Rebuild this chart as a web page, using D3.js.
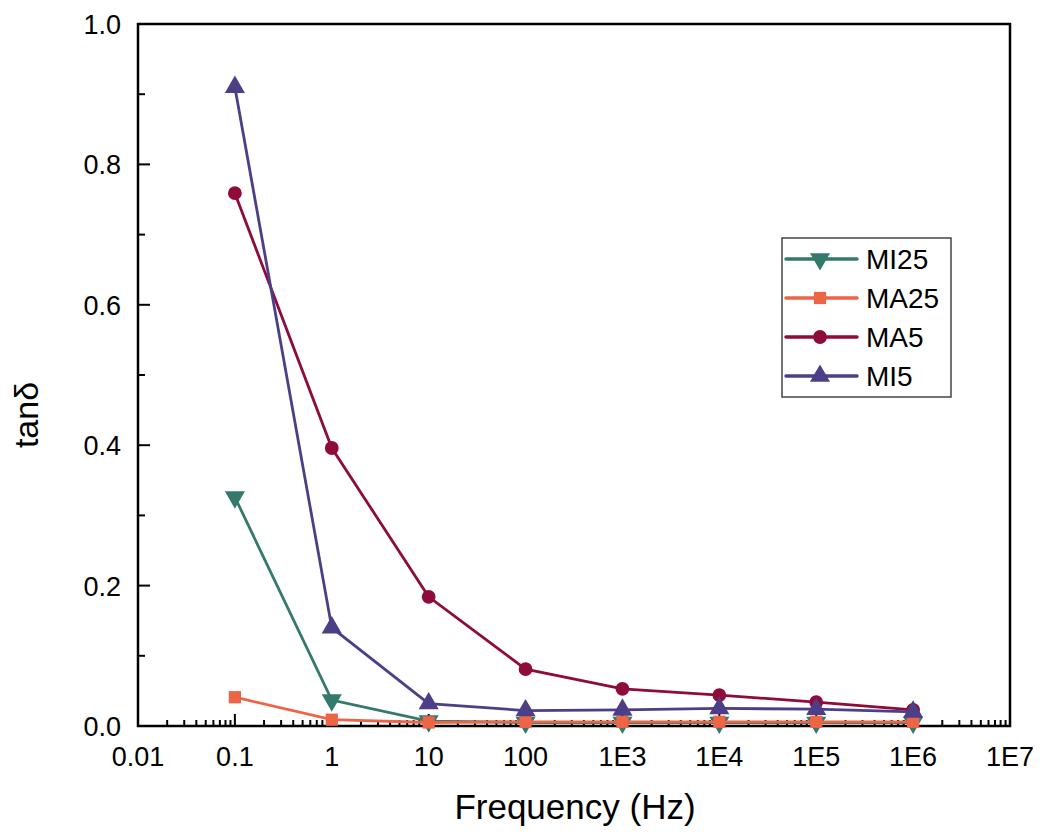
<!DOCTYPE html>
<html lang="en">
<head>
<meta charset="UTF-8">
<title>tan delta vs frequency</title>
<script src="https://d3js.org/d3.v7.min.js"></script>
<style>
    body { margin: 0; background: #fff; }
    text { font-family: "Liberation Sans", Arial, sans-serif; fill: #000; }
</style>
</head>
<body>
<svg id="chart" width="1042" height="834"></svg>
<script>
    // data
    var freqs = [0.1, 1, 10, 100, 1e3, 1e4, 1e5, 1e6];
    var mi25 = [0.326, 0.037, 0.007, 0.005, 0.005, 0.005, 0.005, 0.005];
    var ma25 = [0.041, 0.009, 0.005, 0.006, 0.006, 0.006, 0.006, 0.006];
    var ma5 = [0.759, 0.396, 0.184, 0.081, 0.053, 0.044, 0.034, 0.023];
    var mi5 = [0.91, 0.14, 0.032, 0.022, 0.023, 0.025, 0.024, 0.02];
    var xTickVals = [0.01, 0.1, 1, 10, 100, 1e3, 1e4, 1e5, 1e6, 1e7];
    var xTickLabels = ["0.01", "0.1", "1", "10", "100", "1E3", "1E4", "1E5", "1E6", "1E7"];
    var yTickVals = [0, 0.2, 0.4, 0.6, 0.8, 1.0];

    var series = [
        {name: "MI25", values: mi25, color: "#347a6c", symbol: "down"},
        {name: "MA25", values: ma25, color: "#ee6446", symbol: "square"},
        {name: "MA5", values: ma5, color: "#8e0b3b", symbol: "circle"},
        {name: "MI5", values: mi5, color: "#4c3f88", symbol: "up"}
    ];

    var svg = d3.select("#chart");
    var plotLeft = 138, plotRight = 1010, plotTop = 24, plotBottom = 726;

    var x = d3.scaleLog().domain([0.01, 1e7]).range([plotLeft, plotRight]);
    var y = d3.scaleLinear().domain([0, 1]).range([plotBottom, plotTop]);

    function marker(g, kind, color) {
        var p = g.append("path").attr("fill", color);
        if (kind === "circle") p.attr("d", d3.symbol(d3.symbolCircle, 150)());
        else if (kind === "square") p.attr("d", d3.symbol(d3.symbolSquare, 150)());
        else p.attr("d", d3.symbol(d3.symbolTriangle, 175)());
        if (kind === "down") p.attr("transform", "rotate(180)");
        return p;
    }

    // minor ticks on x (inside)
    var minorX = [];
    for (var e = -2; e < 7; e++) {
        for (var m = 2; m <= 9; m++) minorX.push(m * Math.pow(10, e));
    }
    var axes = svg.append("g");
    axes.selectAll(".xminor").data(minorX).enter().append("line")
        .attr("x1", function (d) { return x(d); }).attr("x2", function (d) { return x(d); })
        .attr("y1", plotBottom).attr("y2", plotBottom - 6)
        .attr("stroke", "#000").attr("stroke-width", 2);
    axes.selectAll(".xmajor").data(xTickVals).enter().append("line")
        .attr("x1", function (d) { return x(d); }).attr("x2", function (d) { return x(d); })
        .attr("y1", plotBottom).attr("y2", plotBottom - 12)
        .attr("stroke", "#000").attr("stroke-width", 2);
    axes.selectAll(".xlab").data(xTickVals).enter().append("text")
        .attr("x", function (d) { return x(d); }).attr("y", plotBottom + 40)
        .attr("text-anchor", "middle").style("font-size", "27px")
        .text(function (d, i) { return xTickLabels[i]; });

    var minorY = [0.1, 0.3, 0.5, 0.7, 0.9];
    axes.selectAll(".yminor").data(minorY).enter().append("line")
        .attr("x1", plotLeft).attr("x2", plotLeft + 7)
        .attr("y1", function (d) { return y(d); }).attr("y2", function (d) { return y(d); })
        .attr("stroke", "#000").attr("stroke-width", 2);
    axes.selectAll(".ymajor").data(yTickVals).enter().append("line")
        .attr("x1", plotLeft).attr("x2", plotLeft + 12)
        .attr("y1", function (d) { return y(d); }).attr("y2", function (d) { return y(d); })
        .attr("stroke", "#000").attr("stroke-width", 2);
    axes.selectAll(".ylab").data(yTickVals).enter().append("text")
        .attr("x", plotLeft - 17).attr("y", function (d) { return y(d) + 10; })
        .attr("text-anchor", "end").style("font-size", "27px")
        .text(function (d) { return d3.format(".1f")(d); });

    // frame
    svg.append("rect")
        .attr("x", plotLeft).attr("y", plotTop)
        .attr("width", plotRight - plotLeft).attr("height", plotBottom - plotTop)
        .attr("fill", "none").attr("stroke", "#000").attr("stroke-width", 2.5);

    // series
    var line = d3.line()
        .x(function (d) { return x(d[0]); })
        .y(function (d) { return y(d[1]); });

    series.forEach(function (s) {
        var pts = freqs.map(function (f, i) { return [f, s.values[i]]; });
        var g = svg.append("g");
        g.append("path").datum(pts)
            .attr("d", line)
            .attr("fill", "none").attr("stroke", s.color).attr("stroke-width", 2.8);
        g.selectAll("g").data(pts).enter().append("g")
            .attr("transform", function (d) { return "translate(" + x(d[0]) + "," + y(d[1]) + ")"; })
            .each(function () { marker(d3.select(this), s.symbol, s.color); });
    });

    // legend
    var lg = svg.append("g");
    lg.append("rect").attr("x", 782).attr("y", 238).attr("width", 169).attr("height", 159)
        .attr("fill", "#fff").attr("stroke", "#444").attr("stroke-width", 1.5);
    series.forEach(function (s, i) {
        var yy = 259 + i * 39;
        lg.append("line").attr("x1", 786).attr("x2", 857).attr("y1", yy).attr("y2", yy)
            .attr("stroke", s.color).attr("stroke-width", 3.5).attr("stroke-linecap", "round");
        var mg = lg.append("g").attr("transform", "translate(820," + yy + ")");
        marker(mg, s.symbol, s.color);
        lg.append("text").attr("x", 866).attr("y", yy + 10).style("font-size", "28px").text(s.name);
    });

    // axis titles
    svg.append("text").attr("x", 575).attr("y", 819)
        .attr("text-anchor", "middle").style("font-size", "35px").text("Frequency (Hz)");
    svg.append("text").attr("transform", "translate(38,415) rotate(-90)")
        .attr("text-anchor", "middle").style("font-size", "34px").text("tanδ");
</script>
</body>
</html>
